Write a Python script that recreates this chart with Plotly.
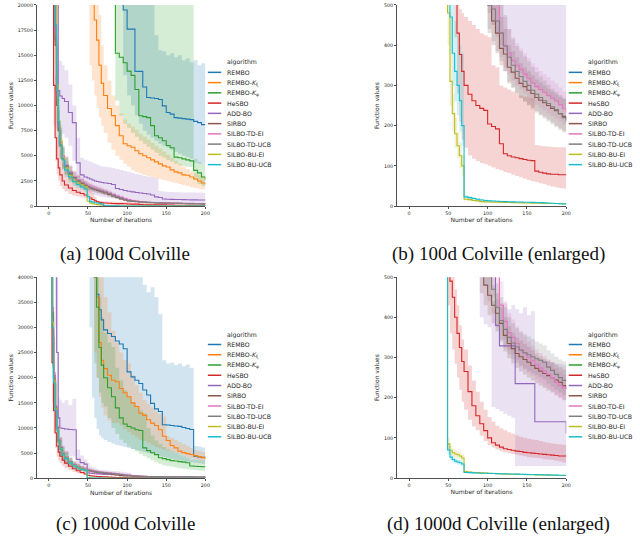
import plotly.graph_objects as go

# ---------------- data ----------------
ITERATIONS = [1, 4, 6, 8, 10, 12, 14, 17, 20,
              25, 30, 35, 40, 45,
              49, 52, 55, 58, 61, 64, 67, 70,
              75, 80, 85, 90, 95, 100,
              105, 110, 115, 120, 125, 130, 135, 140, 145, 150,
              155, 160, 165, 170, 175, 180, 185, 190, 195, 200]

ALGORITHMS = ["REMBO", "REMBO-Kxi", "REMBO-Kpsi", "HeSBO", "ADD-BO", "SIRBO",
              "SILBO-TD-EI", "SILBO-TD-UCB", "SILBO-BU-EI", "SILBO-BU-UCB"]
LEGEND_LABELS = ["REMBO", "REMBO-<i>K</i><sub>ξ</sub>", "REMBO-<i>K</i><sub>ψ</sub>", "HeSBO", "ADD-BO",
                 "SIRBO", "SILBO-TD-EI", "SILBO-TD-UCB", "SILBO-BU-EI", "SILBO-BU-UCB"]
COLORS = ["#1f77b4", "#ff7f0e", "#2ca02c", "#d62728", "#9467bd",
          "#8c564b", "#e377c2", "#7f7f7f", "#bcbd22", "#17becf"]

X_TICKS = [0, 50, 100, 150, 200]
Y_TICKS_100D = [0, 2500, 5000, 7500, 10000, 12500, 15000, 17500, 20000]
Y_TICKS_1000D = [0, 5000, 10000, 15000, 20000, 25000, 30000, 35000, 40000]
Y_TICKS_ENLARGED = [0, 100, 200, 300, 400, 500]
CAPTIONS = ["(a) 100d Colville", "(b) 100d Colville (enlarged)",
            "(c) 1000d Colville", "(d) 1000d Colville (enlarged)"]

MEAN_100D = {
    "REMBO": [60000, 60000, 60000, 60000, 60000, 60000, 60000, 60000, 60000,
              60000, 60000, 60000, 60000, 60000,
              60000, 60000, 60000, 60000, 60000, 60000, 60000, 60000,
              60000, 60000, 60000, 60000, 19500, 17600,
              17600, 13400, 13400, 11840, 10800, 10750, 10700, 10600, 9970, 9300,
              9150, 8800, 8750, 8700, 8650, 8600, 8420, 8300, 8100, 8100],
    "REMBO-Kxi": [60000, 60000, 60000, 60000, 60000, 60000, 60000, 60000, 60000,
                  60000, 60000, 60000, 60000, 60000,
                  60000, 60000, 60000, 18500, 16500, 14000, 12200, 11000,
                  9700, 9000, 8000, 7000, 6200, 6000,
                  5850, 5500, 5200, 5000, 4800, 4600, 4400, 4200, 4000, 3880,
                  3600, 3400, 3300, 3100, 3060, 2900, 2700, 2500, 2300, 2150],
    "REMBO-Kpsi": [60000, 60000, 60000, 60000, 60000, 60000, 60000, 60000, 60000,
                   60000, 60000, 60000, 60000, 60000,
                   60000, 60000, 60000, 60000, 60000, 60000, 60000, 60000,
                   60000, 60000, 15200, 14800, 14250, 13420,
                   13000, 11600, 8980, 8900, 8800, 8000, 7000, 6800, 6500, 6020,
                   5800, 4870, 4800, 4700, 4600, 4500, 3550, 3300, 2900, 2630],
    "HeSBO": [60000, 40000, 12000, 6800, 4700, 3800, 3100, 2500, 2100,
              1800, 1550, 1380, 1250, 1100,
              950, 800, 650, 520, 430, 377, 335, 300,
              278, 262, 250, 243, 238, 204,
              198, 192, 155, 130, 125, 122, 120, 118, 116, 114,
              113, 87, 84, 82, 80, 79, 79, 78, 78, 77],
    "ADD-BO": [60000, 60000, 60000, 40000, 25000, 11500, 10950, 10700, 10400,
               9300, 8300, 4300, 3100, 2900,
               2800, 2700, 2600, 2500, 2450, 2400, 2350, 2300,
               2250, 2150, 1750, 1650, 1550, 1480,
               1410, 1350, 1300, 1250, 1200, 1100, 920, 850, 700, 680,
               670, 660, 650, 640, 630, 620, 615, 610, 605, 600],
    "SIRBO": [60000, 60000, 30000, 16000, 10000, 7500, 6000, 4700, 3900,
              3200, 2800, 2500, 2250, 2050,
              1900, 1800, 1700, 1620, 1550, 1480, 1400, 1300,
              1150, 1000, 850, 720, 600, 500,
              460, 430, 392, 378, 345, 333, 318, 305, 297, 288,
              280, 270, 263, 257, 250, 243, 237, 230, 223, 215],
    "SILBO-TD-EI": [60000, 60000, 35000, 17000, 11000, 8000, 6300, 5000, 4100,
                    3400, 2950, 2650, 2400, 2200,
                    2050, 1950, 1850, 1770, 1700, 1620, 1550, 1450,
                    1300, 1150, 1000, 870, 750, 640,
                    560, 510, 430, 400, 380, 362, 350, 340, 328, 318,
                    306, 297, 290, 283, 275, 268, 262, 252, 242, 232],
    "SILBO-TD-UCB": [60000, 60000, 32000, 16500, 10500, 7800, 6100, 4800, 4000,
                     3300, 2850, 2550, 2300, 2100,
                     1950, 1850, 1750, 1680, 1600, 1530, 1460, 1370,
                     1220, 1070, 920, 790, 660, 540,
                     490, 460, 430, 398, 370, 350, 335, 322, 310, 300,
                     288, 278, 270, 262, 255, 247, 240, 230, 220, 209],
    "SILBO-BU-EI": [60000, 60000, 40000, 20000, 12000, 8500, 6500, 4800, 3800,
                    3000, 2600, 2300, 2100, 1950,
                    480, 310, 230, 180, 150, 125, 100, 17,
                    16, 14, 13, 11, 10.5, 10,
                    9.8, 9.5, 9.2, 9, 8.8, 8.5, 8.2, 8, 7.8, 7.5,
                    7.3, 7.1, 6.9, 6.7, 6.5, 6.4, 6.3, 6.2, 6.1, 6],
    "SILBO-BU-UCB": [60000, 60000, 38000, 18000, 11500, 8400, 6000, 4600, 3600,
                     2900, 2450, 2150, 1900, 1700,
                     950, 470, 380, 335, 300, 262, 200, 23,
                     21, 19, 17, 15, 14, 13,
                     12.5, 12, 11.5, 11, 10.8, 10.5, 10.2, 10, 9.7, 9.5,
                     9.2, 9, 8.5, 8, 7.5, 7, 6.5, 6, 5.5, 5],
}

LOW_100D = {
    "REMBO": [60000, 60000, 60000, 60000, 60000, 60000, 60000, 60000, 60000,
              60000, 60000, 60000, 60000, 60000,
              60000, 60000, 60000, 60000, 60000, 60000, 60000, 60000,
              60000, 60000, 60000, 60000, 13000, 11000,
              10000, 9000, 8200, 7500, 7100, 6800, 6500, 6200, 6000, 5800,
              5600, 5400, 5200, 5000, 4850, 4700, 4300, 4200, 4100, 4000],
    "REMBO-Kxi": [60000, 60000, 60000, 60000, 60000, 60000, 60000, 60000, 60000,
                  60000, 60000, 60000, 60000, 60000,
                  60000, 14000, 12500, 11000, 9800, 8800, 8000, 7300,
                  6300, 5600, 5000, 4600, 4200, 3900,
                  3600, 3400, 3250, 3100, 3000, 2900, 2800, 2700, 2600, 2500,
                  2400, 2300, 2200, 2100, 2000, 1900, 1800, 1700, 1650, 1580],
    "REMBO-Kpsi": [60000, 60000, 60000, 60000, 60000, 60000, 60000, 60000, 60000,
                   60000, 60000, 60000, 60000, 60000,
                   60000, 60000, 60000, 60000, 60000, 60000, 60000, 60000,
                   60000, 60000, 10500, 9000, 8200, 7800,
                   7300, 6900, 6500, 6200, 5900, 5600, 5300, 5000, 4800, 4550,
                   4400, 4200, 4050, 3950, 3900, 3880, 2600, 2200, 2000, 1800],
    "HeSBO": [60000, 30000, 8000, 4500, 3200, 2500, 2000, 1700, 1450,
              1200, 1050, 950, 850, 750,
              650, 580, 520, 420, 280, 210, 165, 145,
              126, 118, 112, 107, 104, 100,
              96, 92, 89, 85, 82, 78, 75, 72, 68, 65,
              62, 60, 57, 54, 51, 49, 47, 45, 44, 44],
    "ADD-BO": [60000, 60000, 60000, 30000, 15000, 8000, 7500, 7200, 6800,
               6000, 4500, 2800, 2000, 1600,
               1400, 1300, 1200, 1100, 1000, 950, 900, 850,
               800, 750, 700, 620, 500, 480,
               450, 430, 400, 385, 370, 355, 344, 330, 320, 310,
               303, 295, 288, 280, 272, 265, 258, 250, 244, 238],
    "SIRBO": [60000, 40000, 20000, 11000, 7500, 5800, 4700, 3700, 3100,
              2600, 2300, 2050, 1850, 1700,
              1580, 1500, 1420, 1350, 1280, 1220, 1150, 1070,
              950, 820, 700, 590, 500, 430,
              400, 380, 350, 335, 305, 295, 280, 268, 260, 252,
              245, 236, 228, 222, 215, 208, 200, 193, 186, 180],
    "SILBO-TD-EI": [60000, 40000, 22000, 12000, 8000, 6100, 4900, 3900, 3300,
                    2750, 2400, 2150, 1950, 1800,
                    1680, 1600, 1520, 1450, 1380, 1320, 1250, 1170,
                    1040, 920, 800, 690, 590, 510,
                    450, 420, 370, 345, 328, 312, 300, 290, 280, 270,
                    260, 252, 245, 238, 230, 224, 218, 210, 202, 195],
    "SILBO-TD-UCB": [60000, 40000, 21000, 11500, 7700, 5900, 4750, 3800, 3200,
                     2650, 2330, 2080, 1880, 1720,
                     1600, 1520, 1440, 1380, 1310, 1250, 1190, 1110,
                     990, 870, 750, 640, 530, 440,
                     410, 385, 360, 335, 310, 295, 282, 270, 260, 250,
                     240, 232, 225, 218, 210, 203, 196, 189, 183, 178],
    "SILBO-BU-EI": [60000, 40000, 25000, 14000, 8500, 6300, 5000, 3800, 3100,
                    2500, 2200, 1950, 1800, 1650,
                    400, 250, 185, 145, 120, 95, 75, 14,
                    13, 12, 11, 9.5, 9, 8.6,
                    8.4, 8.2, 8, 7.8, 7.6, 7.3, 7, 6.8, 6.6, 6.4,
                    6.2, 6, 5.8, 5.7, 5.5, 5.4, 5.3, 5.2, 5.1, 5],
    "SILBO-BU-UCB": [60000, 40000, 25000, 12500, 8200, 6200, 4600, 3600, 2900,
                     2350, 2000, 1780, 1580, 1420,
                     700, 380, 300, 260, 225, 185, 150, 19,
                     17.5, 16, 14.5, 13, 12, 11.2,
                     10.8, 10.4, 10, 9.6, 9.4, 9.1, 8.8, 8.6, 8.3, 8.1,
                     7.8, 7.6, 7.2, 6.8, 6.4, 6, 5.6, 5.2, 4.8, 4.4],
}

HIGH_100D = {
    "REMBO": [60000, 60000, 60000, 60000, 60000, 60000, 60000, 60000, 60000,
              60000, 60000, 60000, 60000, 60000,
              60000, 60000, 60000, 60000, 60000, 60000, 60000, 60000,
              60000, 60000, 60000, 60000, 60000, 60000,
              60000, 60000, 60000, 60000, 60000, 20500, 17000, 15500, 15400, 15000,
              15200, 14800, 15000, 14500, 14700, 14300, 14500, 14000, 14200, 13700],
    "REMBO-Kxi": [60000, 60000, 60000, 60000, 60000, 60000, 60000, 60000, 60000,
                  60000, 60000, 60000, 60000, 60000,
                  60000, 60000, 60000, 60000, 60000, 19000, 16000, 14000,
                  12500, 11000, 10000, 9200, 8600, 8200,
                  7900, 7600, 7200, 6900, 6600, 6300, 6000, 5700, 5400, 5100,
                  4800, 4500, 4200, 3900, 3700, 3500, 3300, 3100, 2950, 2800],
    "REMBO-Kpsi": [60000, 60000, 60000, 60000, 60000, 60000, 60000, 60000, 60000,
                   60000, 60000, 60000, 60000, 60000,
                   60000, 60000, 60000, 60000, 60000, 60000, 60000, 60000,
                   60000, 60000, 60000, 60000, 60000, 60000,
                   60000, 60000, 60000, 60000, 60000, 60000, 60000, 60000, 60000, 60000,
                   60000, 60000, 60000, 60000, 60000, 60000, 4700, 4400, 4100, 3900],
    "HeSBO": [60000, 60000, 20000, 13000, 9500, 7000, 5500, 4300, 3600,
              3000, 2600, 2300, 2100, 1900,
              1700, 1500, 1300, 900, 560, 490, 480, 470,
              460, 450, 440, 430, 425, 420,
              350, 345, 300, 295, 290, 285, 280, 275, 272, 270,
              268, 152, 150, 149, 148, 147, 146, 146, 146, 146],
    "ADD-BO": [60000, 60000, 60000, 60000, 60000, 14500, 14400, 14000, 13500,
               12100, 10000, 6800, 4800, 4600,
               4500, 4400, 4300, 4200, 4100, 4000, 3950, 3900,
               3850, 3800, 3700, 3600, 3500, 3400,
               3300, 3200, 3100, 3000, 2950, 2900, 2800, 1500, 1450, 1400,
               1400, 1380, 1370, 1360, 1350, 1350, 1340, 1340, 1330, 1330],
    "SIRBO": [60000, 60000, 45000, 22000, 13000, 9500, 7500, 5800, 4800,
              3900, 3400, 3000, 2700, 2450,
              2250, 2150, 2050, 1950, 1850, 1780, 1700, 1580,
              1400, 1220, 1050, 900, 760, 640,
              560, 520, 470, 440, 400, 385, 370, 355, 345, 335,
              325, 315, 307, 300, 292, 285, 278, 272, 266, 260],
    "SILBO-TD-EI": [60000, 60000, 50000, 24000, 14000, 10000, 7800, 6100, 5000,
                    4100, 3550, 3150, 2850, 2600,
                    2420, 2300, 2180, 2090, 2000, 1920, 1850, 1730,
                    1560, 1380, 1200, 1050, 910, 780,
                    680, 610, 510, 470, 440, 420, 405, 392, 380, 368,
                    355, 345, 336, 328, 320, 312, 305, 295, 285, 272],
    "SILBO-TD-UCB": [60000, 60000, 47000, 23000, 13500, 9800, 7600, 5900, 4900,
                     4000, 3450, 3050, 2750, 2500,
                     2330, 2200, 2080, 2000, 1910, 1830, 1750, 1650,
                     1470, 1290, 1110, 950, 800, 660,
                     590, 550, 510, 475, 440, 415, 398, 385, 372, 360,
                     346, 333, 322, 312, 302, 292, 284, 276, 268, 260],
    "SILBO-BU-EI": [60000, 60000, 60000, 28000, 16000, 11000, 8200, 6000, 4700,
                    3600, 3050, 2700, 2450, 2300,
                    600, 380, 280, 220, 185, 158, 128, 21,
                    19, 17, 15.5, 13, 12.5, 12,
                    11.6, 11.2, 10.8, 10.5, 10.2, 9.9, 9.6, 9.3, 9, 8.7,
                    8.5, 8.3, 8.1, 7.9, 7.7, 7.5, 7.4, 7.3, 7.2, 7],
    "SILBO-BU-UCB": [60000, 60000, 55000, 26000, 15500, 11000, 7800, 5800, 4500,
                     3550, 2950, 2580, 2250, 2000,
                     1250, 700, 520, 460, 430, 400, 380, 27,
                     25, 23, 20, 17.5, 16.2, 15,
                     14.4, 13.8, 13.2, 12.6, 12.3, 12, 11.6, 11.4, 11.1, 10.9,
                     10.6, 10.4, 9.8, 9.2, 8.6, 8, 7.4, 6.8, 6.2, 5.6],
}

MEAN_1000D = {
    "REMBO": [90000, 90000, 90000, 90000, 90000, 90000, 90000, 90000, 90000,
              90000, 90000, 90000, 90000, 90000,
              90000, 90000, 90000, 42000, 36600, 33500, 31500, 29500,
              28800, 28200, 27300, 26700, 25750, 21150,
              20160, 19500, 18850, 17540, 16550, 14900, 13800, 13270, 10640, 10600,
              10500, 10400, 10310, 10100, 9900, 9700, 4400, 4250, 4150, 4070],
    "REMBO-Kxi": [90000, 90000, 90000, 90000, 90000, 90000, 90000, 90000, 90000,
                  90000, 90000, 90000, 90000, 90000,
                  90000, 90000, 90000, 40000, 36000, 27000, 23450, 21800,
                  20500, 19500, 19180, 17860, 17000, 16220,
                  15000, 14250, 12940, 12500, 11630, 10970, 10500, 9650, 8340, 7500,
                  6500, 6040, 5390, 5100, 4900, 4730, 4500, 4300, 4100, 3800],
    "REMBO-Kpsi": [90000, 90000, 90000, 90000, 90000, 90000, 90000, 90000, 90000,
                   90000, 90000, 90000, 90000, 90000,
                   90000, 90000, 90000, 40000, 34000, 26000, 22500, 20000,
                   18000, 16200, 14000, 12000, 10800, 10300,
                   10000, 9650, 9500, 6040, 5500, 5060, 4700, 4070, 3900, 3700,
                   3500, 3420, 3300, 3200, 3090, 2430, 2400, 2350, 2300, 2250],
    "HeSBO": [90000, 23000, 13500, 9000, 6400, 5200, 4400, 3600, 3000,
              2400, 1900, 1500, 1150, 850,
              600, 490, 450, 400, 360, 325, 290, 265,
              215, 180, 155, 135, 118, 100,
              88, 82, 77, 73, 71, 69, 67, 66, 64, 63,
              62, 61, 60, 59, 58, 57, 56, 55, 55, 54],
    "ADD-BO": [90000, 90000, 90000, 45000, 25000, 12000, 10000, 9900, 9800,
               9700, 9650, 3750, 3100, 2800,
               1100, 1000, 950, 900, 870, 840, 810, 780,
               750, 720, 690, 660, 630, 600,
               560, 380, 329, 329, 329, 329, 235, 235, 235, 235,
               235, 140, 140, 140, 140, 140, 140, 140, 140, 111],
    "SIRBO": [90000, 32000, 20000, 14000, 10000, 7500, 6000, 4800, 4100,
              3200, 2600, 2200, 1900, 1700,
              1550, 1450, 1350, 1250, 1150, 1100, 1050, 1000,
              900, 800, 650, 520, 480, 455,
              430, 410, 385, 355, 335, 322, 310, 302, 295, 288,
              280, 273, 266, 260, 255, 250, 244, 238, 230, 222],
    "SILBO-TD-EI": [90000, 34000, 21000, 14500, 10300, 7800, 6200, 5000, 4250,
                    3350, 2750, 2350, 2050, 1850,
                    1700, 1600, 1500, 1400, 1310, 1250, 1200, 1150,
                    1060, 970, 880, 800, 720, 650,
                    560, 510, 430, 390, 362, 350, 335, 320, 310, 300,
                    292, 282, 274, 266, 258, 250, 238, 230, 224, 220],
    "SILBO-TD-UCB": [90000, 33000, 20500, 14200, 10100, 7600, 6100, 4900, 4150,
                     3250, 2650, 2250, 1950, 1750,
                     1600, 1500, 1400, 1310, 1220, 1160, 1110, 1060,
                     980, 900, 820, 740, 600, 507,
                     470, 425, 392, 370, 350, 336, 326, 318, 312, 307,
                     302, 297, 293, 288, 276, 268, 258, 250, 243, 241],
    "SILBO-BU-EI": [90000, 31000, 19500, 13800, 9800, 7300, 5900, 4700, 4000,
                    3150, 2550, 2150, 1850, 1650,
                    85, 68, 63, 60, 58, 55, 50, 16,
                    15, 14, 13.5, 13, 12.5, 12,
                    11.5, 11, 10.5, 10, 9.8, 9.5, 9.2, 9, 8.8, 8.5,
                    8.2, 8, 7.8, 7.5, 7.2, 7, 6.8, 6.5, 6.2, 6],
    "SILBO-BU-UCB": [90000, 30000, 19000, 13500, 9600, 7200, 5800, 4600, 3900,
                     3050, 2450, 2050, 1750, 1600,
                     70, 52, 46, 42, 40, 38, 35, 14,
                     13.5, 13, 12.5, 12, 11.8, 11.5,
                     11.2, 11, 10.8, 10.5, 10.2, 10, 9.8, 9.5, 9.2, 9,
                     8.8, 8.5, 8.2, 8, 7.8, 7.5, 7.3, 7.1, 7, 7],
}

LOW_1000D = {
    "REMBO": [90000, 90000, 90000, 90000, 90000, 90000, 90000, 90000, 90000,
              90000, 90000, 90000, 90000, 90000,
              90000, 30000, 16000, 12000, 9800, 8500, 8000, 7600,
              7200, 6900, 6600, 6400, 6200, 6000,
              5800, 5600, 5400, 5200, 5000, 4800, 4600, 4400, 4200, 4000,
              3850, 3700, 3550, 3400, 3300, 3200, 3100, 3000, 2900, 2800],
    "REMBO-Kxi": [90000, 90000, 90000, 90000, 90000, 90000, 90000, 90000, 90000,
                  90000, 90000, 90000, 90000, 90000,
                  90000, 90000, 90000, 25000, 20000, 16220, 14000, 12500,
                  11500, 11000, 10970, 10500, 9800, 9200,
                  8600, 8100, 7680, 7400, 7000, 6600, 6200, 5900, 5710, 5500,
                  5200, 5000, 4800, 4500, 4200, 4000, 3800, 3600, 3500, 3420],
    "REMBO-Kpsi": [90000, 90000, 90000, 90000, 90000, 90000, 90000, 90000, 90000,
                   90000, 90000, 90000, 90000, 90000,
                   90000, 90000, 90000, 22800, 20000, 17000, 15000, 14250,
                   12000, 10000, 8800, 7680, 7000, 6300,
                   5800, 5300, 4800, 4400, 4000, 3600, 3200, 2900, 2600, 2430,
                   2300, 2150, 2000, 1900, 1800, 1700, 1600, 1550, 1500, 1450],
    "HeSBO": [90000, 15000, 9000, 6000, 4300, 3500, 3000, 2400, 2000,
              1600, 1300, 1050, 850, 650,
              430, 360, 320, 284, 250, 220, 190, 170,
              145, 128, 119, 105, 92, 82,
              76, 71, 67, 64, 62, 60, 58, 56, 54, 52,
              51, 50, 49, 47, 46, 45, 43, 41, 39, 37],
    "ADD-BO": [90000, 90000, 90000, 30000, 12000, 5000, 5000, 4800, 4600,
               4400, 4400, 1770, 1500, 1200,
               900, 850, 800, 760, 730, 700, 680, 660,
               630, 580, 500, 400, 383, 375,
               177, 172, 166, 160, 155, 150, 30, 30, 30, 30,
               30, 30, 30, 30, 30, 30, 30, 30, 30, 30],
    "SIRBO": [90000, 22000, 14000, 10000, 7200, 5500, 4400, 3600, 3100,
              2450, 2000, 1700, 1480, 1320,
              1200, 1120, 1050, 970, 900, 850, 810, 770,
              700, 620, 510, 460, 430, 405,
              385, 365, 340, 315, 298, 285, 274, 265, 258, 250,
              243, 236, 230, 224, 218, 213, 207, 201, 195, 190],
    "SILBO-TD-EI": [90000, 23000, 14500, 10300, 7400, 5700, 4550, 3750, 3200,
                    2550, 2100, 1800, 1580, 1430,
                    1320, 1240, 1160, 1080, 1010, 960, 920, 880,
                    810, 740, 670, 610, 550, 495,
                    450, 420, 380, 345, 320, 308, 294, 280, 270, 262,
                    255, 246, 238, 230, 222, 215, 205, 198, 193, 190],
    "SILBO-TD-UCB": [90000, 22500, 14000, 10100, 7300, 5600, 4500, 3700, 3150,
                     2500, 2050, 1750, 1520, 1380,
                     1260, 1180, 1100, 1030, 960, 910, 870, 830,
                     770, 700, 640, 580, 480, 440,
                     410, 375, 345, 325, 308, 296, 286, 278, 272, 266,
                     261, 256, 251, 245, 235, 228, 220, 213, 206, 203],
    "SILBO-BU-EI": [90000, 21000, 13500, 9800, 7100, 5400, 4350, 3550, 3050,
                    2450, 2000, 1700, 1460, 1300,
                    72, 58, 54, 51, 49, 46, 42, 13.5,
                    12.6, 11.8, 11.4, 11, 10.6, 10.2,
                    9.8, 9.4, 9, 8.6, 8.4, 8.1, 7.9, 7.7, 7.5, 7.3,
                    7, 6.8, 6.6, 6.4, 6.1, 5.9, 5.7, 5.5, 5.3, 5.1],
    "SILBO-BU-UCB": [90000, 20000, 13000, 9500, 6900, 5300, 4300, 3450, 2950,
                     2350, 1900, 1600, 1380, 1250,
                     58, 44, 39, 36, 34, 32, 30, 12,
                     11.5, 11, 10.6, 10.2, 10, 9.8,
                     9.5, 9.3, 9.1, 8.9, 8.6, 8.5, 8.3, 8, 7.8, 7.6,
                     7.4, 7.2, 6.9, 6.8, 6.6, 6.3, 6.2, 6, 5.9, 5.9],
}

HIGH_1000D = {
    "REMBO": [90000, 90000, 90000, 90000, 90000, 90000, 90000, 90000, 90000,
              90000, 90000, 90000, 90000, 90000,
              90000, 90000, 90000, 90000, 90000, 90000, 90000, 90000,
              90000, 90000, 90000, 90000, 90000, 90000,
              90000, 90000, 90000, 38500, 37000, 38000, 36000, 32600, 23450, 22800,
              23000, 22500, 22800, 22300, 22600, 22000, 6400, 6300, 6100, 6000],
    "REMBO-Kxi": [90000, 90000, 90000, 90000, 90000, 90000, 90000, 90000, 90000,
                  90000, 90000, 90000, 90000, 90000,
                  90000, 90000, 90000, 90000, 90000, 90000, 40000, 36000,
                  33000, 29360, 27000, 25000, 23500, 22800,
                  20500, 18500, 17000, 15570, 14800, 14000, 13300, 12800, 12280, 8340,
                  8000, 7600, 7200, 6800, 6400, 6000, 5600, 5400, 5200, 5060],
    "REMBO-Kpsi": [90000, 90000, 90000, 90000, 90000, 90000, 90000, 90000, 90000,
                   90000, 90000, 90000, 90000, 90000,
                   90000, 90000, 90000, 90000, 90000, 36000, 32000, 29000,
                   27000, 26080, 22000, 19500, 17500, 16220,
                   15000, 14000, 13500, 12940, 10000, 8500, 7500, 6800, 6200, 5710,
                   5300, 5000, 4700, 4400, 4100, 3800, 3700, 3600, 3500, 3420],
    "HeSBO": [90000, 35000, 20000, 13000, 9500, 7500, 6300, 5000, 4200,
              3400, 2700, 2200, 1700, 1300,
              900, 620, 520, 470, 430, 380, 345, 320,
              280, 243, 215, 190, 170, 152,
              140, 130, 124, 119, 114, 110, 106, 103, 100, 98,
              96, 95, 92, 90, 88, 86, 85, 84, 83, 82],
    "ADD-BO": [90000, 90000, 90000, 90000, 90000, 16000, 15500, 15000, 15500,
               14500, 15800, 5700, 4500, 3800,
               3090, 2500, 2200, 2000, 1770, 1700, 1650, 1600,
               1500, 1450, 1400, 1300, 1200, 1100,
               440, 445, 425, 435, 420, 430, 420, 410, 425, 405,
               415, 300, 295, 292, 290, 288, 285, 283, 281, 280],
    "SIRBO": [90000, 45000, 28000, 19000, 13500, 10000, 8000, 6300, 5300,
              4100, 3300, 2800, 2400, 2150,
              1950, 1820, 1700, 1570, 1450, 1380, 1320, 1260,
              1130, 1000, 820, 600, 540, 510,
              480, 460, 435, 400, 378, 362, 350, 342, 334, 326,
              318, 310, 303, 297, 292, 288, 282, 276, 270, 262],
    "SILBO-TD-EI": [90000, 48000, 30000, 20000, 14000, 10500, 8300, 6500, 5400,
                    4200, 3450, 2950, 2550, 2300,
                    2100, 1980, 1850, 1730, 1620, 1550, 1480, 1420,
                    1310, 1200, 1090, 990, 890, 800,
                    680, 600, 490, 440, 410, 395, 378, 362, 352, 340,
                    330, 320, 311, 303, 295, 286, 274, 265, 258, 252],
    "SILBO-TD-UCB": [90000, 47000, 29000, 19500, 13800, 10300, 8200, 6400, 5300,
                     4100, 3350, 2850, 2450, 2200,
                     2000, 1870, 1750, 1640, 1530, 1450, 1390, 1330,
                     1230, 1130, 1030, 920, 740, 600,
                     540, 485, 450, 425, 400, 385, 373, 365, 358, 352,
                     346, 340, 335, 330, 318, 310, 302, 295, 290, 288],
    "SILBO-BU-EI": [90000, 45000, 28000, 19000, 13300, 9800, 7800, 6100, 5100,
                    4000, 3200, 2700, 2300, 2050,
                    100, 80, 73, 70, 67, 64, 58, 18.5,
                    17.4, 16.2, 15.6, 15, 14.4, 13.8,
                    13.2, 12.6, 12, 11.4, 11.2, 10.9, 10.5, 10.3, 10.1, 9.7,
                    9.4, 9.2, 9, 8.6, 8.3, 8.1, 7.9, 7.5, 7.1, 6.9],
    "SILBO-BU-UCB": [90000, 44000, 27000, 18500, 13000, 9600, 7600, 5900, 4950,
                     3850, 3100, 2600, 2200, 2000,
                     85, 62, 54, 49, 47, 45, 41, 16.5,
                     15.8, 15.2, 14.6, 14, 13.8, 13.4,
                     13, 12.8, 12.6, 12.2, 11.9, 11.6, 11.4, 11.1, 10.7, 10.5,
                     10.3, 9.9, 9.6, 9.3, 9.1, 8.8, 8.5, 8.3, 8.2, 8.2],
}

# ---------------- layout / drawing ----------------
W, H = 640, 540
DATASETS = {"100d": (MEAN_100D, LOW_100D, HIGH_100D),
            "1000d": (MEAN_1000D, LOW_1000D, HIGH_1000D)}

for name, (m, lo, hi) in DATASETS.items():
    for alg in ALGORITHMS:
        for tag, arr in (("mean", m), ("low", lo), ("high", hi)):
            if len(arr[alg]) != len(ITERATIONS):
                raise ValueError(f"{name} {tag} {alg}: {len(arr[alg])}")

PANELS = [
    {"dim": "100d", "yticks": Y_TICKS_100D, "box": (37, 207, 3, 206), "cap": (126, 254)},
    {"dim": "100d", "yticks": Y_TICKS_ENLARGED, "box": (400, 570.7, 3, 206), "cap": (502, 254)},
    {"dim": "1000d", "yticks": Y_TICKS_1000D, "box": (37, 207, 277.7, 480.7), "cap": (126, 527)},
    {"dim": "1000d", "yticks": Y_TICKS_ENLARGED, "box": (400, 570.7, 277.7, 480.5), "cap": (502, 527)},
]

FONT = "DejaVu Sans"
TXT = "#262626"


def rgba(hex_color, a):
    h = hex_color.lstrip("#")
    return f"rgba({int(h[0:2], 16)},{int(h[2:4], 16)},{int(h[4:6], 16)},{a})"


fig = go.Figure()
layout = dict(width=W, height=H, margin=dict(l=0, r=0, t=0, b=0),
              paper_bgcolor="white", plot_bgcolor="white", showlegend=False,
              hovermode=False, font=dict(family=FONT, color=TXT))
annotations, shapes = [], []

for k, p in enumerate(PANELS, start=1):
    xa = "x" if k == 1 else f"x{k}"
    ya = "y" if k == 1 else f"y{k}"
    mean, low, high = DATASETS[p["dim"]]
    # confidence bands first (under all lines)
    for alg, col in zip(ALGORITHMS, COLORS):
        fig.add_trace(go.Scatter(x=ITERATIONS, y=low[alg], mode="lines",
                                 line=dict(width=0, shape="hv"), hoverinfo="skip",
                                 xaxis=xa, yaxis=ya))
        fig.add_trace(go.Scatter(x=ITERATIONS, y=high[alg], mode="lines",
                                 line=dict(width=0, shape="hv"), fill="tonexty",
                                 fillcolor=rgba(col, 0.2), hoverinfo="skip",
                                 xaxis=xa, yaxis=ya))
    for alg, col in zip(ALGORITHMS, COLORS):
        fig.add_trace(go.Scatter(x=ITERATIONS, y=mean[alg], mode="lines", name=alg,
                                 line=dict(width=1.1, color=col, shape="hv"),
                                 xaxis=xa, yaxis=ya))

    left, right, top, bottom = p["box"]
    yt = p["yticks"]
    axis_common = dict(showgrid=False, zeroline=False, showline=True, linecolor=TXT,
                       linewidth=0.8, ticks="outside", ticklen=2, tickwidth=0.8,
                       tickcolor=TXT, tickfont=dict(size=4.8, family=FONT, color=TXT))
    layout["xaxis" if k == 1 else f"xaxis{k}"] = dict(
        domain=[left / W, right / W], range=[-15.5, 200], anchor=ya,
        tickmode="array", tickvals=X_TICKS, ticktext=[str(v) for v in X_TICKS],
        title=dict(text="Number of iterations", font=dict(size=6, family=FONT, color=TXT), standoff=3),
        **axis_common)
    layout["yaxis" if k == 1 else f"yaxis{k}"] = dict(
        domain=[1 - bottom / H, 1 - top / H], range=[0, yt[-1]], anchor=xa,
        tickmode="array", tickvals=yt, ticktext=[str(v) for v in yt],
        title=dict(text="Function values", font=dict(size=6, family=FONT, color=TXT), standoff=3),
        **axis_common)

    # legend drawn beside each panel
    tx = right + 20
    annotations.append(dict(x=tx / W, y=1 - (top + 58) / H, xref="paper", yref="paper",
                            text="algorithm", showarrow=False, xanchor="left", yanchor="middle",
                            font=dict(size=6.2, family=FONT, color=TXT)))
    for i, (lab, col) in enumerate(zip(LEGEND_LABELS, COLORS)):
        yy = top + 68 + i * 10.35
        shapes.append(dict(type="line", xref="paper", yref="paper",
                           x0=(right + 2.5) / W, x1=(right + 16) / W,
                           y0=1 - yy / H, y1=1 - yy / H, line=dict(color=col, width=1.5)))
        annotations.append(dict(x=tx / W, y=1 - yy / H, xref="paper", yref="paper",
                                text=lab, showarrow=False, xanchor="left", yanchor="middle",
                                font=dict(size=6.2, family=FONT, color=TXT)))
    cx, cy = p["cap"]
    annotations.append(dict(x=cx / W, y=1 - cy / H, xref="paper", yref="paper",
                            text=CAPTIONS[k - 1], showarrow=False, xanchor="center", yanchor="middle",
                            font=dict(size=19, family="Liberation Serif", color="#111111")))

layout["annotations"] = annotations
layout["shapes"] = shapes
fig.update_layout(**layout)
fig.write_html("out.html", config={"displayModeBar": False, "staticPlot": True},
               post_script="document.body.style.margin='0px';document.body.style.overflow='hidden';")
